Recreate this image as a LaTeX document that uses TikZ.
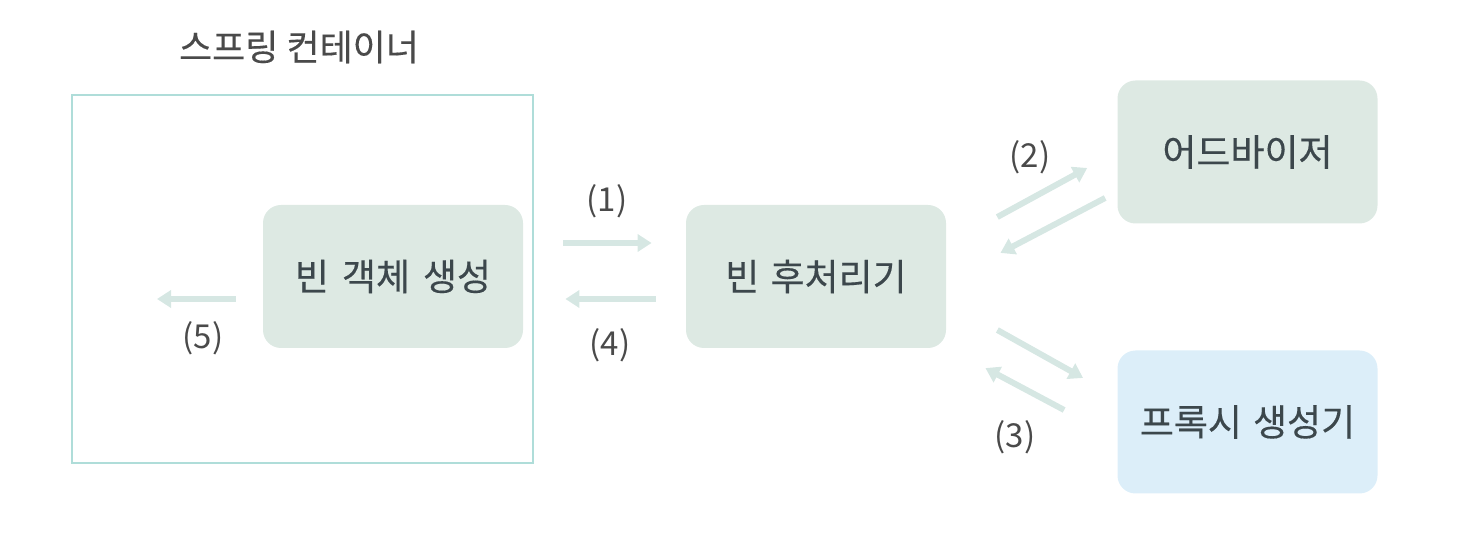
\documentclass[tikz,border=0pt]{standalone}
\usepackage{fontspec}
\setmainfont{Noto Sans CJK KR}
\newfontfamily\vastag[FakeBold=0.35]{Noto Sans CJK KR}
\usetikzlibrary{arrows.meta,positioning}
\definecolor{zold}{HTML}{DDE9E3}
\definecolor{kek}{HTML}{DCEEF9}
\definecolor{keret}{HTML}{AFDDD9}
\definecolor{nyilszin}{HTML}{D6E7E3}
\definecolor{betu}{HTML}{3C474C}
\definecolor{szam}{HTML}{4A4A4A}
\tikzset{
  dob/.style={rounded corners=9pt,minimum width=130pt,minimum height=71.5pt,
    inner sep=0pt,text=betu,font=\vastag\fontsize{18.5}{22}\selectfont},
  zdob/.style={dob,fill=zold},
  kdob/.style={dob,fill=kek},
  tar/.style={draw=keret,line width=1.2pt,minimum width=230.5pt,minimum height=184pt,inner sep=0pt},
  cim/.style={text=szam,font=\vastag\fontsize{18}{22}\selectfont},
  szamok/.style={text=szam,font=\fontsize{16.5}{20}\selectfont},
  nyil/.style={draw=nyilszin,line width=3pt,-{Triangle[length=7pt,width=8.5pt]}},
}
\begin{document}
\begin{tikzpicture}[x=0.5pt,y=-0.5pt]
  \useasboundingbox (0,0) rectangle (1468,550);
  % tarolo es dobozok
  \node[tar] (tarolo) at (302.5,279) {};
  \node[cim] (felirat) at (299,47) {스프링 컨테이너};
  \node[zdob] (obj) at (393,276.5) {빈\hspace{0.35em}객체\hspace{0.35em}생성};
  \node[zdob] (post) at (816,276.5) {빈\hspace{0.3em}후처리기};
  \node[zdob] (adv) at (1247.5,152) {어드바이저};
  \node[kdob] (proxy) at (1247.5,422) {프록시\hspace{0.3em}생성기};
  \coordinate (ki) at (157,299);
  % nyilak
  \draw[nyil,shorten <=20pt,shorten >=17pt] ([yshift=16.75pt]obj.east) -- ([yshift=16.75pt]post.west);
  \draw[nyil,shorten <=15pt,shorten >=21pt] ([yshift=-11.25pt]post.west) -- ([yshift=-11.25pt]obj.east);
  \draw[nyil,shorten <=13.5pt] ([yshift=-11.25pt]obj.west) -- (ki);
  \draw[nyil,shorten <=29pt,shorten >=17pt] ([yshift=15.85pt]post.east) -- ([yshift=0.15pt]adv.west);
  \draw[nyil,shorten <=6.75pt,shorten >=30.5pt] ([yshift=-19.85pt]adv.west) -- ([yshift=-2.4pt]post.east);
  \draw[nyil,shorten <=29.2pt,shorten >=19.5pt] ([yshift=-12.5pt]post.east) -- ([yshift=12.5pt]proxy.west);
  \draw[nyil,shorten <=30pt,shorten >=22.1pt] ([yshift=-8.1pt]proxy.west) -- ([yshift=-35.4pt]post.east);
  % szamok
  \node[szamok] (n1) at (607,201) {(1)};
  \node[szamok] (n2) at (1030,157) {(2)};
  \node[szamok] (n3) at (1015,437) {(3)};
  \node[szamok] (n4) at (610,345) {(4)};
  \node[szamok] (n5) at (203,338) {(5)};
\end{tikzpicture}
\end{document}
